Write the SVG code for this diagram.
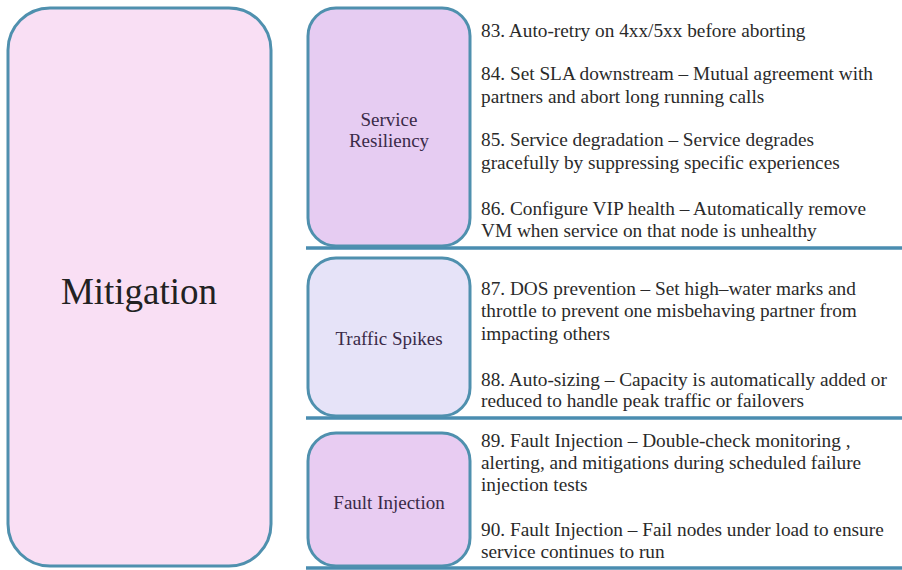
<svg xmlns="http://www.w3.org/2000/svg" width="902" height="570" viewBox="0 0 902 570">
<style>
.box{stroke:#4f90ae;stroke-width:3}
.sep{stroke:#4a8db0;stroke-width:3.5}
.t{font-family:"Liberation Serif","Times New Roman",serif;font-size:19.3px;fill:#2a2a2a}
.lbl{font-family:"Liberation Serif","Times New Roman",serif;font-size:19px;fill:#3a2a48;text-anchor:middle}
.big{font-family:"Liberation Serif","Times New Roman",serif;font-size:37px;fill:#222;text-anchor:middle}
</style>
<rect width="902" height="570" fill="#ffffff"/>
<g id="connectors">
<line class="sep" x1="306" y1="248" x2="902" y2="248"/>
<line class="sep" x1="306" y1="418" x2="902" y2="418"/>
<line class="sep" x1="306" y1="568" x2="902" y2="568"/>
</g>
<g id="mitigation">
<rect class="box" x="8" y="8" width="263" height="558" rx="42" fill="#f9dff4"/>
<text class="big" x="139" y="304">Mitigation</text>
</g>
<g id="service-resiliency">
<rect class="box" x="308" y="8" width="162" height="238" rx="28" fill="#e6ccf2"/>
<text class="lbl" x="389" y="126">Service</text>
<text class="lbl" x="389" y="147">Resiliency</text>
</g>
<g id="traffic-spikes">
<rect class="box" x="308" y="258" width="162" height="158" rx="28" fill="#e6e3f8"/>
<text class="lbl" x="389" y="345">Traffic Spikes</text>
</g>
<g id="fault-injection">
<rect class="box" x="308" y="433" width="162" height="133" rx="28" fill="#e8ccf2"/>
<text class="lbl" x="389" y="509">Fault Injection</text>
</g>
<g id="items">
<text class="t" x="481" y="37">83. Auto-retry on 4xx/5xx before aborting</text>
<text class="t" x="481" y="80">84. Set SLA downstream – Mutual agreement with</text>
<text class="t" x="481" y="103">partners and abort long running calls</text>
<text class="t" x="481" y="146">85. Service degradation – Service degrades</text>
<text class="t" x="481" y="169">gracefully by suppressing specific experiences</text>
<text class="t" x="481" y="215">86. Configure VIP health – Automatically remove</text>
<text class="t" x="481" y="237">VM when service on that node is unhealthy</text>
<text class="t" x="481" y="295">87. DOS prevention – Set high–water marks and</text>
<text class="t" x="481" y="317">throttle to prevent one misbehaving partner from</text>
<text class="t" x="481" y="340">impacting others</text>
<text class="t" x="481" y="386">88. Auto-sizing – Capacity is automatically added or</text>
<text class="t" x="481" y="407">reduced to handle peak traffic or failovers</text>
<text class="t" x="481" y="447">89. Fault Injection – Double-check monitoring ,</text>
<text class="t" x="481" y="469">alerting, and mitigations during scheduled failure</text>
<text class="t" x="481" y="491">injection tests</text>
<text class="t" x="481" y="536">90. Fault Injection – Fail nodes under load to ensure</text>
<text class="t" x="481" y="558">service continues to run</text>
</g>
</svg>
